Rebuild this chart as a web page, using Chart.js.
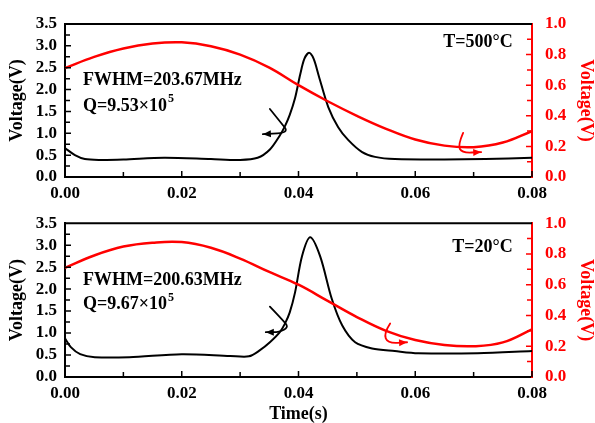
<!DOCTYPE html>
<html>
<head>
<meta charset="utf-8">
<script src="https://cdn.jsdelivr.net/npm/chart.js@4/dist/chart.umd.min.js"></script>
<style>
	html, body { margin: 0; padding: 0; background: #fff; }
	body { width: 595px; height: 423px; position: relative; overflow: hidden; }
	.panel { position: absolute; left: 0; }
	#topPanel { top: 0; }
	#bottomPanel { top: 200px; }
</style>
</head>
<body>
<div class="panel" id="topPanel"><canvas id="topChart" width="595" height="205"></canvas></div>
<div class="panel" id="bottomPanel"><canvas id="bottomChart" width="595" height="223"></canvas></div>
<script>
/************  DATA  ************/
// T = 500°C panel
const topBlackTime = [0, 0.0017, 0.0034, 0.006, 0.01, 0.017, 0.025, 0.03, 0.033, 0.0351, 0.0368, 0.0377, 0.0385, 0.0394, 0.0403, 0.041, 0.0418, 0.0426, 0.0435, 0.0451, 0.0468, 0.0485, 0.0509, 0.0531, 0.0565, 0.065, 0.072, 0.08];
const topBlack = [0.66, 0.50, 0.41, 0.39, 0.40, 0.44, 0.41, 0.39, 0.44, 0.63, 0.95, 1.17, 1.42, 1.80, 2.35, 2.70, 2.84, 2.70, 2.30, 1.60, 1.14, 0.85, 0.57, 0.46, 0.41, 0.40, 0.41, 0.44];
const redTime = [0, 0.005, 0.01, 0.015, 0.02, 0.025, 0.03, 0.035, 0.04, 0.045, 0.05, 0.055, 0.06, 0.065, 0.07, 0.075, 0.08];
const topRed = [0.712, 0.785, 0.84, 0.872, 0.88, 0.855, 0.80, 0.715, 0.60, 0.495, 0.40, 0.315, 0.245, 0.205, 0.195, 0.225, 0.30];

// T = 20°C panel
const bottomBlackTime = [0, 0.001, 0.0026, 0.0051, 0.011, 0.02, 0.0283, 0.0315, 0.0334, 0.0351, 0.0368, 0.0377, 0.0385, 0.0394, 0.0406, 0.042, 0.0437, 0.0457, 0.0475, 0.0497, 0.0526, 0.0565, 0.0605, 0.0707, 0.08];
const bottomBlack = [0.88, 0.68, 0.52, 0.45, 0.45, 0.52, 0.48, 0.47, 0.61, 0.79, 1.02, 1.22, 1.47, 1.92, 2.75, 3.18, 2.75, 1.78, 1.17, 0.79, 0.65, 0.59, 0.54, 0.54, 0.59];
const bottomRed = [0.71, 0.79, 0.848, 0.873, 0.877, 0.84, 0.77, 0.683, 0.60, 0.495, 0.39, 0.30, 0.24, 0.208, 0.20, 0.225, 0.31];

// curly arrows (time, voltage) – black ones on the left axis, red ones on the right axis
const topBlackArrow = [[0.0351, 1.556], [0.0373, 1.19], [0.038, 1.075], [0.0373, 1.0], [0.0339, 0.98]];
const topRedArrow = [[0.0682, 0.288], [0.0673, 0.209], [0.068, 0.157], [0.0713, 0.163]];
const bottomBlackArrow = [[0.0351, 1.60], [0.0377, 1.24], [0.0382, 1.13], [0.0368, 1.02], [0.0344, 1.02]];
const bottomRedArrow = [[0.0557, 0.348], [0.0546, 0.284], [0.0553, 0.219], [0.0586, 0.226]];

// tick labels
const timeTicks = [0, 0.02, 0.04, 0.06, 0.08];
const leftTicks = [0, 0.5, 1, 1.5, 2, 2.5, 3, 3.5];
const rightTicks = [0, 0.2, 0.4, 0.6, 0.8, 1.0];

const RED = '#ff0000';
const FONT = "'Liberation Serif', 'Times New Roman', serif";

/************  HELPERS  ************/
function toPoints(xs, ys) {
	return xs.map((x, i) => ({ x: x, y: ys[i] }));
}

function drawTicks(ctx, scale, values, length, color, side) {
	ctx.strokeStyle = color;
	ctx.lineWidth = 1.5;
	ctx.beginPath();
	values.forEach(v => {
		const p = scale.getPixelForValue(v);
		if (side === 'bottom') {
			ctx.moveTo(p, scale.top);
			ctx.lineTo(p, scale.top - length);
		} else if (side === 'left') {
			ctx.moveTo(scale.right, p);
			ctx.lineTo(scale.right + length, p);
		} else {
			ctx.moveTo(scale.left, p);
			ctx.lineTo(scale.left - length, p);
		}
	});
	ctx.stroke();
}

function drawArrow(ctx, chart, pts, yId, color) {
	const xs = chart.scales.x;
	const ys = chart.scales[yId];
	const px = pts.map(p => [xs.getPixelForValue(p[0]), ys.getPixelForValue(p[1])]);
	ctx.strokeStyle = color;
	ctx.fillStyle = color;
	ctx.lineWidth = 1.8;
	ctx.lineJoin = 'round';
	ctx.lineCap = 'round';
	ctx.beginPath();
	ctx.moveTo(px[0][0], px[0][1]);
	for (let i = 1; i < px.length - 1; i++) {
		const mx = (px[i][0] + px[i + 1][0]) / 2;
		const my = (px[i][1] + px[i + 1][1]) / 2;
		ctx.quadraticCurveTo(px[i][0], px[i][1], mx, my);
	}
	const end = px[px.length - 1];
	const prev = px[px.length - 2];
	ctx.lineTo(end[0], end[1]);
	ctx.stroke();
	// arrowhead
	const a = Math.atan2(end[1] - prev[1], end[0] - prev[0]);
	const len = 8, half = 3.5;
	ctx.beginPath();
	ctx.moveTo(end[0], end[1]);
	ctx.lineTo(end[0] - len * Math.cos(a) + half * Math.sin(a), end[1] - len * Math.sin(a) - half * Math.cos(a));
	ctx.lineTo(end[0] - len * Math.cos(a) - half * Math.sin(a), end[1] - len * Math.sin(a) + half * Math.cos(a));
	ctx.closePath();
	ctx.fill();
}

/************  PLUGIN: frame, inward ticks, arrows and notes  ************/
const decorPlugin = {
	id: 'decor',
	afterDraw(chart, args, opts) {
		const ctx = chart.ctx;
		const area = chart.chartArea;
		const { x, y, y2 } = chart.scales;
		ctx.save();

		// top frame line
		ctx.strokeStyle = '#000';
		ctx.lineWidth = 2;
		ctx.beginPath();
		ctx.moveTo(area.left - 1, area.top);
		ctx.lineTo(area.right, area.top);
		ctx.stroke();

		// inward ticks
		drawTicks(ctx, x, [0, 0.02, 0.04, 0.06, 0.08], 6, '#000', 'bottom');
		drawTicks(ctx, x, [0.01, 0.03, 0.05, 0.07], 5, '#000', 'bottom');
		drawTicks(ctx, y, [0.5, 1, 1.5, 2, 2.5, 3], 6, '#000', 'left');
		drawTicks(ctx, y, [0.25, 0.75, 1.25, 1.75, 2.25, 2.75, 3.25], 5, '#000', 'left');
		drawTicks(ctx, y2, [0.2, 0.4, 0.6, 0.8], 6, RED, 'right');
		drawTicks(ctx, y2, [0.1, 0.3, 0.5, 0.7, 0.9], 5, RED, 'right');

		// curly arrows
		drawArrow(ctx, chart, opts.blackArrow, 'y', '#000');
		drawArrow(ctx, chart, opts.redArrow, 'y2', RED);

		// notes
		ctx.fillStyle = '#000';
		ctx.font = 'bold 18px ' + FONT;
		ctx.textBaseline = 'middle';
		ctx.textAlign = 'left';
		const nx = x.getPixelForValue(opts.notePos[0]);
		ctx.fillText(opts.fwhm, nx, y.getPixelForValue(opts.notePos[1]));
		const qy = y.getPixelForValue(opts.notePos[2]);
		ctx.fillText(opts.q, nx, qy);
		const qw = ctx.measureText(opts.q).width;
		ctx.font = 'bold 12px ' + FONT;
		ctx.fillText('5', nx + qw + 1, qy - 7);

		ctx.font = 'bold 18px ' + FONT;
		ctx.textAlign = 'right';
		ctx.fillText(opts.temp, x.getPixelForValue(opts.tempPos[0]), y.getPixelForValue(opts.tempPos[1]));

		ctx.restore();
	}
};

/************  CHART FACTORY  ************/
function makeChart(canvasId, cfg) {
	const tickFont = { family: FONT, size: 17, weight: 'bold' };
	const titleFont = { family: FONT, size: 18, weight: 'bold', lineHeight: 1 };

	return new Chart(document.getElementById(canvasId), {
		type: 'line',
		data: {
			datasets: [
				{
					data: toPoints(cfg.redTime, cfg.red),
					yAxisID: 'y2',
					borderColor: RED,
					borderWidth: 2.5,
					pointRadius: 0,
					tension: 0.4,
				},
				{
					data: toPoints(cfg.blackTime, cfg.black),
					yAxisID: 'y',
					borderColor: '#000',
					borderWidth: 2,
					pointRadius: 0,
					tension: 0.3,
				},
			],
		},
		options: {
			responsive: false,
			animation: false,
			layout: { padding: { top: cfg.padTop, left: 0, right: 0, bottom: 0 } },
			plugins: {
				legend: { display: false },
				tooltip: { enabled: false },
				decor: cfg.decor,
			},
			scales: {
				x: {
					type: 'linear',
					min: 0,
					max: 0.08,
					afterBuildTicks: s => { s.ticks = timeTicks.map(v => ({ value: v })); },
					afterFit: s => { s.height = cfg.xHeight; },
					grid: { display: false, drawTicks: false },
					border: { color: '#000', width: 2 },
					ticks: {
						color: '#000',
						font: tickFont,
						padding: 6,
						maxRotation: 0,
						autoSkip: false,
						callback: v => v.toFixed(2),
					},
					title: {
						display: cfg.showTime,
						text: 'Time(s)',
						color: '#000',
						font: titleFont,
						padding: { top: 0, bottom: 0 },
					},
				},
				y: {
					position: 'left',
					min: 0,
					max: 3.5,
					afterBuildTicks: s => { s.ticks = leftTicks.map(v => ({ value: v })); },
					afterFit: s => { s.width = 65; },
					grid: { display: false, drawTicks: false },
					border: { color: '#000', width: 2 },
					ticks: { color: '#000', font: tickFont, padding: 8, autoSkip: false, callback: v => v.toFixed(1) },
					title: {
						display: true,
						text: 'Voltage(V)',
						color: '#000',
						font: titleFont,
						padding: { top: 8, bottom: 0 },
					},
				},
				y2: {
					position: 'right',
					min: 0,
					max: 1,
					afterBuildTicks: s => { s.ticks = rightTicks.map(v => ({ value: v })); },
					afterFit: s => { s.width = 63; },
					grid: { display: false, drawTicks: false },
					border: { color: RED, width: 2 },
					ticks: { color: RED, font: tickFont, padding: 13, autoSkip: false, callback: v => v.toFixed(1) },
					title: {
						display: true,
						text: 'Voltage(V)',
						color: RED,
						font: titleFont,
						padding: { top: 0, bottom: 0 },
					},
				},
			},
		},
		plugins: [decorPlugin],
	});
}

/************  CHARTS  ************/
makeChart('topChart', {
	blackTime: topBlackTime, black: topBlack,
	redTime: redTime, red: topRed,
	padTop: 24, xHeight: 28, showTime: false,
	decor: {
		blackArrow: topBlackArrow, redArrow: topRedArrow,
		fwhm: 'FWHM=203.67MHz', q: 'Q=9.53\u00d710', notePos: [0.0031, 2.2, 1.62],
		temp: 'T=500\u00b0C', tempPos: [0.0767, 3.09],
	},
});

makeChart('bottomChart', {
	blackTime: bottomBlackTime, black: bottomBlack,
	redTime: redTime, red: bottomRed,
	padTop: 22, xHeight: 46, showTime: true,
	decor: {
		blackArrow: bottomBlackArrow, redArrow: bottomRedArrow,
		fwhm: 'FWHM=200.63MHz', q: 'Q=9.67\u00d710', notePos: [0.0031, 2.21, 1.65],
		temp: 'T=20\u00b0C', tempPos: [0.0767, 2.96],
	},
});
</script>
</body>
</html>
